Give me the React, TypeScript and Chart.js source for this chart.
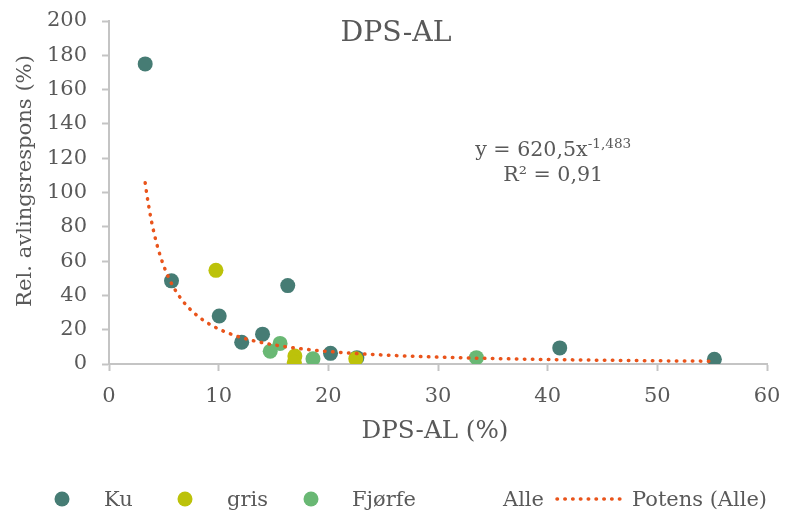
import React, { useEffect, useRef } from "react";
import { Chart, registerables } from "chart.js";

Chart.register(...registerables);

// ---- text ----
const TITLE = "DPS-AL";
const X_TITLE = "DPS-AL (%)";
const Y_TITLE = "Rel. avlingsrespons (%)";
const SERIES_NAMES = ["Ku", "gris", "Fjørfe", "Alle", "Potens (Alle)"];

// ---- axes ----
const X_MIN = 0;
const X_MAX = 60;
const X_STEP = 10;
const Y_MIN = 0;
const Y_MAX = 200;
const Y_STEP = 20;

// ---- data (x = DPS-AL %, y = rel. avlingsrespons %) ----
const kuX = [3.3, 5.7, 10.05, 12.1, 14.0, 16.3, 20.2, 22.6, 41.1, 55.2];
const kuY = [175, 48.5, 28, 12.7, 17.4, 45.7, 6.2, 3.7, 9.4, 2.8];

const grisX = [9.75, 16.95, 16.9, 22.5];
const grisY = [54.6, 4.7, 1.0, 3.1];

const fjorfeX = [14.7, 15.6, 18.6, 33.5];
const fjorfeY = [7.4, 12.0, 3.1, 3.7];

// ---- power trendline shown on the chart: y = A * x^B ----
const TREND_A = 620.5;
const TREND_B = -1.483;
const TREND_R2 = "0,91";
const TREND_SAMPLES = 120;

// ---- styles ----
const FONT = "'DejaVu Serif', serif";
const TEXT = "#595959";
const AXIS = "#C4C4C4";
const KU = "#467C74";
const GRIS = "#BCC20A";
const FJORFE = "#69B874";
const TREND = "#E9541B";

const toPts = (xs: number[], ys: number[]) => xs.map((x, i) => ({ x, y: ys[i] }));

const allX = [...kuX, ...grisX, ...fjorfeX];
const allY = [...kuY, ...grisY, ...fjorfeY];

function trendPoints() {
  const lo = Math.min(...allX);
  const hi = Math.max(...allX);
  const pts: { x: number; y: number }[] = [];
  for (let i = 0; i <= TREND_SAMPLES; i++) {
    const t = i / TREND_SAMPLES;
    const x = lo * Math.pow(hi / lo, t);
    pts.push({ x, y: TREND_A * Math.pow(x, TREND_B) });
  }
  return pts;
}

const fmt = (v: number) => String(v).replace(".", ",");

// font size giving the text a wanted width
function fitSize(ctx: CanvasRenderingContext2D, text: string, width: number) {
  ctx.font = `100px ${FONT}`;
  return (100 * width) / ctx.measureText(text).width;
}

const overlay = {
  id: "overlay",
  afterDraw(chart: any) {
    const ctx = chart.ctx as CanvasRenderingContext2D;
    const { chartArea, scales } = chart;
    ctx.save();
    ctx.fillStyle = TEXT;
    ctx.textBaseline = "alphabetic";
    ctx.textAlign = "center";

    // title
    const tSize = fitSize(ctx, TITLE, 111);
    ctx.font = `${tSize}px ${FONT}`;
    ctx.fillText(TITLE, 396, 41);

    // x-axis title
    const xtSize = fitSize(ctx, X_TITLE, 147);
    ctx.font = `${xtSize}px ${FONT}`;
    ctx.fillText(X_TITLE, (chartArea.left + chartArea.right) / 2 - 3, 438);

    // y-axis title
    const ytSize = fitSize(ctx, Y_TITLE, 252);
    ctx.save();
    ctx.font = `${ytSize}px ${FONT}`;
    ctx.translate(31, 181);
    ctx.rotate(-Math.PI / 2);
    ctx.fillText(Y_TITLE, 0, 0);
    ctx.restore();

    // trendline equation
    const ex = scales.x.getPixelForValue(40.5);
    const ey = scales.y.getPixelForValue(121);
    const main = `y = ${fmt(TREND_A)}x`;
    const sup = fmt(TREND_B);
    const r2 = `R² = ${TREND_R2}`;
    const eSize = fitSize(ctx, r2, 100);
    const sSize = eSize * 0.66;
    ctx.font = `${eSize}px ${FONT}`;
    const wMain = ctx.measureText(main).width;
    ctx.font = `${sSize}px ${FONT}`;
    const wSup = ctx.measureText(sup).width;
    const startX = ex - (wMain + wSup) / 2;
    ctx.textAlign = "left";
    ctx.font = `${eSize}px ${FONT}`;
    ctx.fillText(main, startX, ey);
    ctx.font = `${sSize}px ${FONT}`;
    ctx.fillText(sup, startX + wMain, ey - 8);
    ctx.font = `${eSize}px ${FONT}`;
    ctx.textAlign = "center";
    ctx.fillText(r2, ex, ey + 25);

    // legend
    const ly = 499;
    const lb = 506;
    const lSize = fitSize(ctx, SERIES_NAMES[4], 135);
    ctx.font = `${lSize}px ${FONT}`;
    ctx.textAlign = "left";
    const markers: [number, string, number][] = [
      [62, KU, 104],
      [185, GRIS, 227],
      [311, FJORFE, 352],
    ];
    markers.forEach(([mx, col, tx], i) => {
      ctx.fillStyle = col;
      ctx.beginPath();
      ctx.arc(mx, ly, 7.5, 0, Math.PI * 2);
      ctx.fill();
      ctx.fillStyle = TEXT;
      ctx.fillText(SERIES_NAMES[i], tx, lb);
    });
    ctx.fillText(SERIES_NAMES[3], 503, lb);
    ctx.strokeStyle = TREND;
    ctx.lineWidth = 3.5;
    ctx.lineCap = "round";
    ctx.setLineDash([0.5, 7.3]);
    ctx.beginPath();
    ctx.moveTo(557, ly);
    ctx.lineTo(625, ly);
    ctx.stroke();
    ctx.setLineDash([]);
    ctx.fillText(SERIES_NAMES[4], 632, lb);

    ctx.restore();
  },
};

export default function App() {
  const ref = useRef<HTMLCanvasElement | null>(null);

  useEffect(() => {
    if (!ref.current) return;
    const marker = (col: string) => ({
      backgroundColor: col,
      borderColor: col,
      pointBackgroundColor: col,
      pointBorderColor: col,
      pointRadius: 7.5,
      pointBorderWidth: 0,
      showLine: false,
    });
    const chart = new Chart(ref.current, {
      type: "scatter",
      data: {
        datasets: [
          { label: SERIES_NAMES[0], data: toPts(kuX, kuY), order: 4, ...marker(KU) },
          { label: SERIES_NAMES[1], data: toPts(grisX, grisY), order: 3, ...marker(GRIS) },
          { label: SERIES_NAMES[2], data: toPts(fjorfeX, fjorfeY), order: 2, ...marker(FJORFE) },
          {
            label: SERIES_NAMES[3],
            data: toPts(allX, allY),
            order: 1,
            pointRadius: 0,
            showLine: false,
          },
          {
            label: SERIES_NAMES[4],
            type: "line",
            data: trendPoints(),
            order: 0,
            showLine: true,
            pointRadius: 0,
            borderColor: TREND,
            borderWidth: 3.5,
            borderDash: [0.5, 7.5],
            borderCapStyle: "round",
            fill: false,
            tension: 0,
          } as any,
        ],
      },
      options: {
        animation: false,
        responsive: false,
        devicePixelRatio: 1,
        layout: { padding: { top: 21, right: 18, left: 0, bottom: 0 } },
        plugins: {
          legend: { display: false },
          title: { display: false },
          tooltip: { enabled: false },
        },
        scales: {
          x: {
            type: "linear",
            min: X_MIN,
            max: X_MAX,
            afterFit: (s: any) => {
              s.height = 148;
              s.paddingLeft = 0;
              s.paddingRight = 0;
            },
            ticks: {
              stepSize: X_STEP,
              color: TEXT,
              padding: 13,
              font: { family: FONT, size: 21 },
            },
            grid: {
              drawOnChartArea: false,
              drawTicks: true,
              tickLength: 7,
              tickColor: AXIS,
              tickWidth: 2,
              color: AXIS,
            },
            border: { display: true, color: AXIS, width: 2 },
          },
          y: {
            type: "linear",
            min: Y_MIN,
            max: Y_MAX,
            afterFit: (s: any) => {
              s.width = 109;
              s.paddingTop = 0;
              s.paddingBottom = 0;
            },
            ticks: {
              stepSize: Y_STEP,
              color: TEXT,
              padding: 15,
              font: { family: FONT, size: 21 },
            },
            grid: {
              drawOnChartArea: false,
              drawTicks: true,
              tickLength: 7,
              tickColor: AXIS,
              tickWidth: 2,
              color: AXIS,
            },
            border: { display: true, color: AXIS, width: 2 },
          },
        },
      },
      plugins: [overlay],
    } as any);
    return () => chart.destroy();
  }, []);

  return (
    <div style={{ position: "absolute", left: 0, top: 0, background: "#fff" }}>
      <canvas ref={ref} width={785} height={512} style={{ display: "block" }} />
    </div>
  );
}
